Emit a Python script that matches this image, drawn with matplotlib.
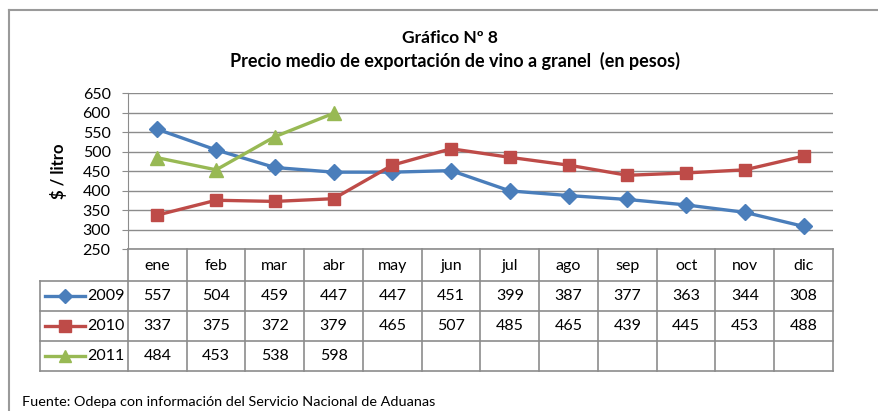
import matplotlib.pyplot as plt
import matplotlib.transforms as mtransforms
from matplotlib.lines import Line2D

plt.rcParams['font.family'] = ['Lato', 'DejaVu Sans']

meses = ['ene', 'feb', 'mar', 'abr', 'may', 'jun', 'jul', 'ago', 'sep', 'oct', 'nov', 'dic']
v2009 = [557, 504, 459, 447, 447, 451, 399, 387, 377, 363, 344, 308]
v2010 = [337, 375, 372, 379, 465, 507, 485, 465, 439, 445, 453, 488]
v2011 = [484, 453, 538, 598]
series = [('2009', v2009, '#4A7EBB', 'D', 8),
          ('2010', v2010, '#BE4B48', 's', 9),
          ('2011', v2011, '#98B954', '^', 10)]

W, H = 879, 411
fig = plt.figure(figsize=(W / 100, H / 100), dpi=100)

def fx(px):
    return px / W

def fy(py):
    return 1 - py / H

# plot area in pixels
x0, x1, ytop, ybot = 128, 833, 93, 249
ax = fig.add_axes([fx(x0), fy(ybot), fx(x1) - fx(x0), fy(ytop) - fy(ybot)])

grid_c = '#8C8C8C'
for name, vals, col, mk, ms in series:
    ax.plot(range(len(vals)), vals, color=col, lw=2.4, marker=mk, ms=ms,
            markeredgecolor=col, zorder=3)

ax.set_xlim(-0.5, len(meses) - 0.5)
ax.set_ylim(250, 650)
ax.set_yticks(range(250, 651, 50))
ax.set_xticks([])
ax.yaxis.grid(True, color=grid_c, lw=1)
ax.set_axisbelow(True)
for s in ['top', 'right', 'bottom']:
    ax.spines[s].set_visible(False)
ax.spines['left'].set_color(grid_c)
ax.tick_params(axis='y', length=4.5, color=grid_c, labelsize=11.5, pad=8)
ax.set_ylabel('$ / litro', fontsize=12, fontweight='bold', labelpad=11)

# titles
fig.text(fx(450), fy(38), 'Gráfico Nº 8', ha='center', va='center',
         fontsize=12.5, fontweight='bold')
fig.text(fx(455), fy(61), 'Precio medio de exportación de vino a granel  (en pesos)',
         ha='center', va='center', fontsize=13, fontweight='bold')

# data table below plot
tab_c = '#8C8C8C'
row_y = [249, 281, 311, 341, 371]
lab_x0 = 40

def hline(xa, xb, yp):
    fig.add_artist(Line2D([fx(xa), fx(xb)], [fy(yp), fy(yp)], color=tab_c, lw=1.2))

def vline(xp, ya, yb):
    fig.add_artist(Line2D([fx(xp), fx(xp)], [fy(ya), fy(yb)], color=tab_c, lw=1.2))

colw = (x1 - x0) / len(meses)
hline(x0, x1, 249)
for yp in row_y[1:]:
    hline(lab_x0, x1, yp)
for i in range(len(meses) + 1):
    vline(x0 + i * colw, 249, 371)
vline(lab_x0, 281, 371)

trans = mtransforms.blended_transform_factory(ax.transData, fig.transFigure)
for i, m in enumerate(meses):
    ax.text(i, fy(266), m, transform=trans, ha='center', va='center',
            fontsize=11.5, clip_on=False)
for r, (name, vals, col, mk, ms) in enumerate(series):
    yc = fy((row_y[r + 1] + row_y[r + 2]) / 2)
    for i, v in enumerate(vals):
        ax.text(i, yc, str(v), transform=trans, ha='center', va='center',
                fontsize=11.5, clip_on=False)
    fig.add_artist(Line2D([fx(45), fx(85)], [yc, yc], color=col, lw=2.4))
    fig.add_artist(Line2D([fx(65)], [yc], color=col, marker=mk, ms=ms - 1,
                          markeredgecolor=col))
    fig.text(fx(87), yc, name, ha='left', va='center', fontsize=11.5)

# outer frame (cropped on right and bottom)
fig.add_artist(Line2D([fx(9), 1], [fy(10), fy(10)], color='#9A9A9A', lw=1.5))
fig.add_artist(Line2D([fx(9), fx(9)], [fy(10), 0], color='#9A9A9A', lw=1.5))

fig.text(fx(22), fy(402), 'Fuente: Odepa con información del Servicio Nacional de Aduanas',
         ha='left', va='center', fontsize=10.4)

fig.savefig('out.png', dpi=100)
